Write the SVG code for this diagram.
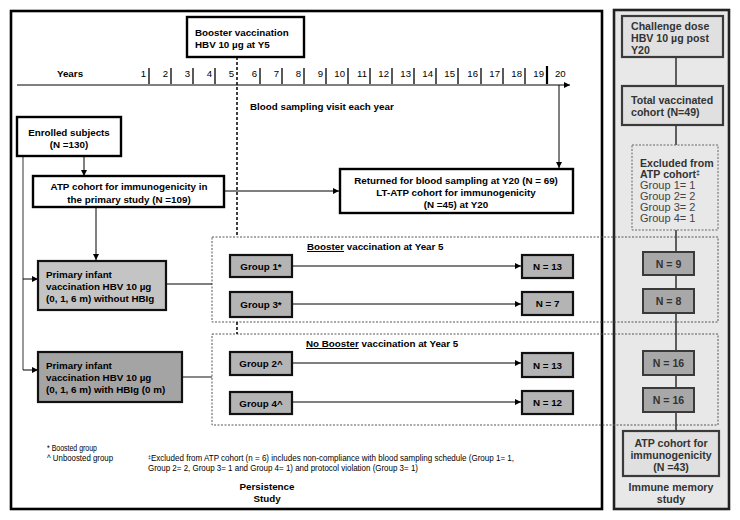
<svg xmlns="http://www.w3.org/2000/svg" width="740" height="520" viewBox="0 0 740 520">
<defs>
<marker id="arr" viewBox="0 0 10 10" refX="10" refY="5" markerWidth="7" markerHeight="6" markerUnits="userSpaceOnUse" orient="auto"><path d="M0,0 L10,5 L0,10 z" fill="#000"/></marker>
<style>
text{font-family:"Liberation Sans",Arial,sans-serif;fill:#000}
.b{font-weight:bold;font-size:9.8px}
.r{font-size:9.6px}
.c{text-anchor:middle}
.rp{font-weight:bold;font-size:10.6px;fill:#333}
.rr{font-size:11px;fill:#444}
.box{fill:#fff;stroke:#000;stroke-width:2.4}
.g1{fill:#c4c4c4;stroke:#111;stroke-width:2.2}
.g2{fill:#a4a4a4;stroke:#111;stroke-width:2.2}
.gb{fill:#b4b4b4;stroke:#111;stroke-width:2.2}
.rb{fill:#e0e0e0;stroke:#3a3a3a;stroke-width:2.2}
.rn{fill:#a8a8a8;stroke:#3a3a3a;stroke-width:2}
.ln{stroke:#000;stroke-width:1;fill:none}
.dsh{fill:none;stroke:#555;stroke-width:1;stroke-dasharray:2,1.5}
.tk{stroke:#000;stroke-width:1.3}
.fn{font-size:9px}
</style>
</defs>

<!-- frames -->
<rect x="11" y="11" width="591" height="498" fill="#fff" stroke="#000" stroke-width="2.6"/>
<rect x="614" y="10" width="115" height="499" fill="#e8e8e8" stroke="#222" stroke-width="2.6"/>

<!-- dashed group boxes -->
<rect class="dsh" x="212" y="237" width="506" height="85"/>
<rect class="dsh" x="212" y="334" width="506" height="91"/>

<g id="connectors">
<!-- timeline -->
<line class="ln" x1="17" y1="85" x2="570" y2="85" stroke-width="1.5" marker-end="url(#arr)"/>
<g class="tk">
<line x1="149" y1="68" x2="149" y2="84"/><line x1="171" y1="68" x2="171" y2="84"/><line x1="193" y1="68" x2="193" y2="84"/><line x1="215" y1="68" x2="215" y2="84"/>
<line x1="260" y1="68" x2="260" y2="84"/><line x1="282" y1="68" x2="282" y2="84"/><line x1="304" y1="68" x2="304" y2="84"/><line x1="326" y1="68" x2="326" y2="84"/>
<line x1="348" y1="68" x2="348" y2="84"/><line x1="370" y1="68" x2="370" y2="84"/><line x1="392" y1="68" x2="392" y2="84"/><line x1="414" y1="68" x2="414" y2="84"/>
<line x1="436" y1="68" x2="436" y2="84"/><line x1="458" y1="68" x2="458" y2="84"/><line x1="481" y1="68" x2="481" y2="84"/><line x1="503" y1="68" x2="503" y2="84"/>
<line x1="525" y1="68" x2="525" y2="84"/><line x1="547" y1="66" x2="547" y2="84" stroke-width="2.2"/>
</g>
<!-- year 5 dashed line -->
<line x1="237" y1="57" x2="237" y2="237" stroke="#000" stroke-width="1.5" stroke-dasharray="3,2"/>
<line x1="237" y1="322" x2="237" y2="334" stroke="#000" stroke-width="1.5" stroke-dasharray="3,2"/>
<!-- year 20 down arrow -->
<line class="ln" x1="559" y1="85" x2="559" y2="168" stroke-width="1.3" marker-end="url(#arr)"/>
<!-- enrolled -> ATP -->
<line class="ln" x1="84" y1="156" x2="84" y2="176" stroke-width="1.3" marker-end="url(#arr)"/>
<!-- ATP -> primary 1 -->
<line class="ln" x1="96" y1="207" x2="96" y2="260" stroke-width="1.5" marker-end="url(#arr)"/>
<!-- left branch -->
<line x1="23" y1="156" x2="23" y2="370" stroke="#555" stroke-width="1.2"/>
<line class="ln" x1="23" y1="279" x2="38" y2="279" marker-end="url(#arr)"/>
<line class="ln" x1="23" y1="370" x2="38" y2="370" marker-end="url(#arr)"/>
<!-- ATP -> LT-ATP -->
<line class="ln" x1="224" y1="191" x2="339" y2="191" stroke="#333" marker-end="url(#arr)"/>
<!-- primary -> dashed boxes -->
<line class="ln" x1="166" y1="284" x2="212" y2="284"/>
<line x1="182" y1="377" x2="212" y2="377" stroke="#888" stroke-width="2"/>
<!-- group arrows -->
<line class="ln" x1="292" y1="266" x2="521" y2="266" marker-end="url(#arr)"/>
<line class="ln" x1="292" y1="304" x2="521" y2="304" marker-end="url(#arr)"/>
<line class="ln" x1="292" y1="363" x2="521" y2="363" marker-end="url(#arr)"/>
<line class="ln" x1="292" y1="402" x2="521" y2="402" marker-end="url(#arr)"/>
<!-- right panel spine -->
<line x1="676" y1="57" x2="676" y2="431" stroke="#3a3a3a" stroke-width="1.6"/>
</g>

<!-- timeline labels -->
<text class="b" x="70" y="77" text-anchor="middle">Years</text>
<g class="r" text-anchor="end">
<text x="146" y="77">1</text><text x="168" y="77">2</text><text x="190" y="77">3</text><text x="212" y="77">4</text><text x="234" y="77">5</text>
<text x="257" y="77">6</text><text x="279" y="77">7</text><text x="301" y="77">8</text><text x="323" y="77">9</text><text x="345" y="77">10</text>
<text x="367" y="77">11</text><text x="389" y="77">12</text><text x="411" y="77">13</text><text x="433" y="77">14</text><text x="455" y="77">15</text>
<text x="478" y="77">16</text><text x="500" y="77">17</text><text x="522" y="77">18</text><text x="544" y="77">19</text>
</g>
<text class="r" x="555" y="77">20</text>
<text class="b" x="250" y="110">Blood sampling visit each year</text>

<g id="booster">
<rect class="box" x="187" y="17" width="117" height="40"/>
<text class="b" x="195" y="36">Booster vaccination</text>
<text class="b" x="195" y="48">HBV 10 µg at Y5</text>
</g>

<g id="enrolled">
<rect class="box" x="17" y="117" width="104" height="39"/>
<text class="b c" x="69" y="136">Enrolled subjects</text>
<text class="b c" x="69" y="148">(N =130)</text>
</g>

<g id="atp">
<rect class="box" x="33" y="176" width="191" height="31"/>
<text class="b c" x="129" y="190">ATP cohort for immunogenicity in</text>
<text class="b c" x="129" y="203">the primary study (N =109)</text>
</g>

<g id="ltatp">
<rect class="box" x="340" y="169" width="233" height="44"/>
<text class="b c" x="456" y="184">Returned for blood sampling  at Y20 (N = 69)</text>
<text class="b c" x="456" y="196">LT-ATP cohort for immunogenicity</text>
<text class="b c" x="456" y="207.5">(N =45) at Y20</text>
</g>

<g id="primary1">
<rect class="g1" x="38" y="261" width="128" height="49"/>
<text class="b" x="46" y="278">Primary infant</text>
<text class="b" x="46" y="290">vaccination HBV 10 µg</text>
<text class="b" x="46" y="301.5">(0, 1, 6 m) without HBIg</text>
</g>

<g id="primary2">
<rect class="g2" x="38" y="352" width="144" height="50"/>
<text class="b" x="46" y="369">Primary infant</text>
<text class="b" x="46" y="381">vaccination HBV 10 µg</text>
<text class="b" x="46" y="392.5">(0, 1, 6 m) with HBIg (0 m)</text>
</g>

<text class="b" x="307" y="250"><tspan text-decoration="underline">Booster</tspan> vaccination at Year 5</text>
<text class="b" x="306" y="347"><tspan text-decoration="underline">No Booster</tspan> vaccination at Year 5</text>

<g id="group1"><rect class="gb" x="230" y="255" width="62" height="22"/><text class="b c" x="261" y="270">Group 1*</text></g>
<g id="group3"><rect class="gb" x="230" y="292" width="62" height="25"/><text class="b c" x="261" y="308">Group 3*</text></g>
<g id="group2"><rect class="gb" x="230" y="352" width="62" height="23"/><text class="b c" x="261" y="367">Group 2^</text></g>
<g id="group4"><rect class="gb" x="230" y="392" width="62" height="22"/><text class="b c" x="261" y="407">Group 4^</text></g>

<g id="n13a"><rect class="gb" x="522" y="255" width="51" height="23"/><text class="b c" x="547.5" y="270">N = 13</text></g>
<g id="n7"><rect class="gb" x="522" y="292" width="51" height="23"/><text class="b c" x="547.5" y="307">N = 7</text></g>
<g id="n13b"><rect class="gb" x="522" y="353" width="51" height="24"/><text class="b c" x="547.5" y="369">N = 13</text></g>
<g id="n12"><rect class="gb" x="522" y="391" width="51" height="23"/><text class="b c" x="547.5" y="406">N = 12</text></g>

<!-- footnotes -->
<text class="fn" x="47" y="451" textLength="50" lengthAdjust="spacingAndGlyphs">* Boosted group</text>
<text class="fn" x="47" y="461" textLength="66" lengthAdjust="spacingAndGlyphs">^ Unboosted group</text>
<text class="fn" x="148" y="461" textLength="366" lengthAdjust="spacingAndGlyphs"><tspan font-size="6" dy="-2">‡</tspan><tspan dy="2">Excluded from ATP cohort (n = 6) includes non-compliance with blood sampling schedule (Group 1= 1,</tspan></text>
<text class="fn" x="148" y="471" textLength="270" lengthAdjust="spacingAndGlyphs">Group 2= 2, Group 3= 1 and Group 4= 1) and protocol violation (Group 3= 1)</text>
<text class="b c" x="267" y="490">Persistence</text>
<text class="b c" x="267" y="502">Study</text>

<!-- right panel -->
<g id="challenge">
<rect class="rb" x="622" y="16" width="101" height="41"/>
<text class="rp" x="631" y="30">Challenge dose</text>
<text class="rp" x="631" y="42">HBV 10 µg post</text>
<text class="rp" x="631" y="54">Y20</text>
</g>
<g id="total">
<rect class="rb" x="622" y="86" width="101" height="39"/>
<text class="rp" x="631" y="104">Total vaccinated</text>
<text class="rp" x="631" y="116">cohort (N=49)</text>
</g>
<g id="excluded">
<rect x="632" y="145" width="86" height="85" fill="#e8e8e8" stroke="#666" stroke-width="1" stroke-dasharray="2,1.5"/>
<text class="rp" x="640" y="167">Excluded from</text>
<text class="rp" x="640" y="178">ATP cohort<tspan font-size="7" dy="-3">‡</tspan></text>
<text class="rr" x="640" y="189">Group 1= 1</text>
<text class="rr" x="640" y="200">Group 2= 2</text>
<text class="rr" x="640" y="211">Group 3= 2</text>
<text class="rr" x="640" y="222">Group 4= 1</text>
</g>
<g id="rn9"><rect class="rn" x="643" y="252" width="51" height="23"/><text class="rp c" x="668.5" y="267.5" font-size="10">N = 9</text></g>
<g id="rn8"><rect class="rn" x="643" y="289" width="51" height="24"/><text class="rp c" x="668.5" y="305" font-size="10">N = 8</text></g>
<g id="rn16a"><rect class="rn" x="643" y="351" width="51" height="24"/><text class="rp c" x="668.5" y="367" font-size="10">N = 16</text></g>
<g id="rn16b"><rect class="rn" x="643" y="388" width="51" height="24"/><text class="rp c" x="668.5" y="404" font-size="10">N = 16</text></g>
<g id="atp2">
<rect class="rb" x="623" y="431" width="96" height="45" fill="#e8e8e8"/>
<text class="rp c" x="671" y="446.5" font-size="10.2">ATP cohort for</text>
<text class="rp c" x="671" y="458.5" font-size="10.2">immunogenicity</text>
<text class="rp c" x="671" y="470.5" font-size="10.2">(N =43)</text>
</g>
<text class="rp c" x="671" y="491" font-size="10.2" fill="#111">Immune memory</text>
<text class="rp c" x="671" y="503" font-size="10.2" fill="#111">study</text>
</svg>
